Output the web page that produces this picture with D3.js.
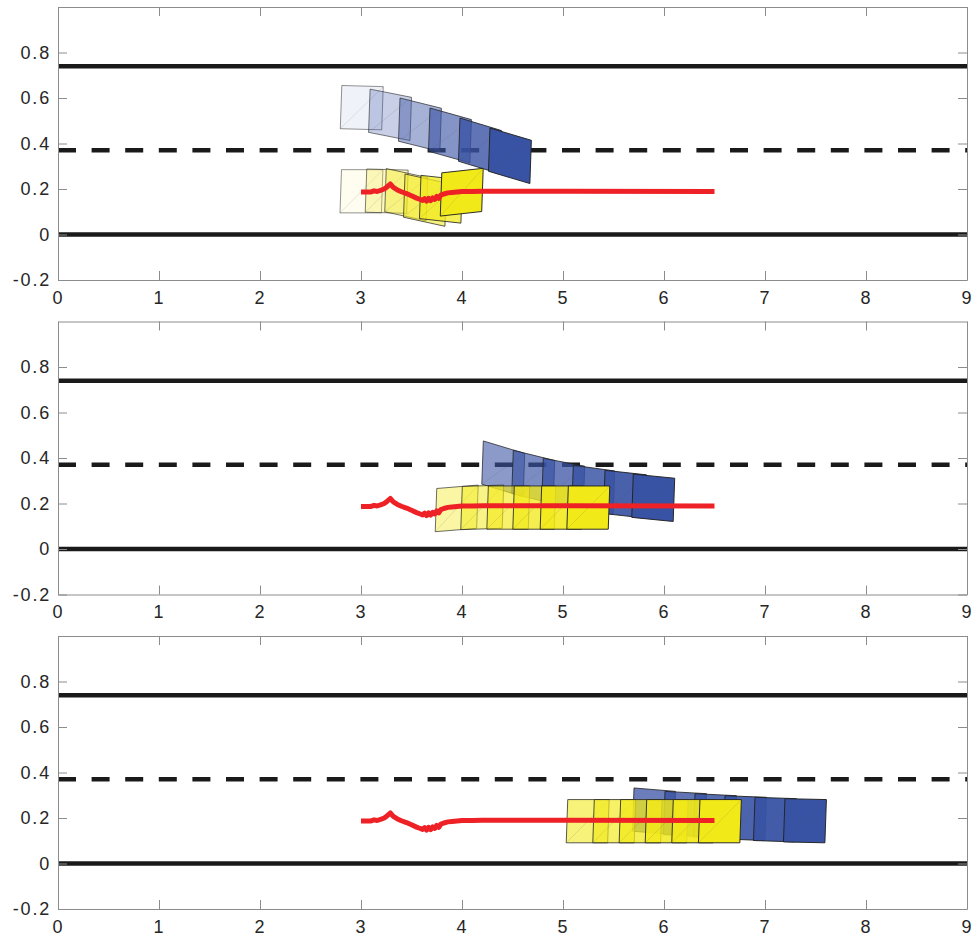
<!DOCTYPE html>
<html>
<head>
<meta charset="utf-8">
<script src="https://cdn.jsdelivr.net/npm/d3@7/dist/d3.min.js"></script>
<style>
  body { margin: 0; background: #fff; }
  .axis path, .axis line { stroke: #8c8c8c; }
  .axis text { fill: #262626; font-family: "Liberation Sans", Arial, sans-serif; font-size: 18px; letter-spacing: 1.8px; }
</style>
</head>
<body>
<div id="chart"></div>
<script>
// tick values
const xTicks = [0, 1, 2, 3, 4, 5, 6, 7, 8, 9];
const yTicks = [-0.2, 0, 0.2, 0.4, 0.6, 0.8];

// horizontal reference levels
const solidLevels = [0.74, 0];
const dashedLevel = 0.37;

// reference path (red)
const pathX = [3.0, 3.10, 3.13, 3.16, 3.20, 3.23, 3.26, 3.29, 3.32, 3.36, 3.40, 3.45, 3.50, 3.55, 3.58, 3.61, 3.63, 3.65, 3.67, 3.69, 3.71, 3.73, 3.75, 3.77, 3.79, 3.82, 3.86, 3.90, 3.95, 4.00, 4.10, 4.20, 4.40, 5.0, 6.5];
const pathY = [0.187, 0.187, 0.192, 0.189, 0.195, 0.200, 0.210, 0.222, 0.207, 0.196, 0.188, 0.180, 0.170, 0.160, 0.155, 0.150, 0.158, 0.147, 0.159, 0.149, 0.161, 0.154, 0.167, 0.159, 0.173, 0.178, 0.183, 0.185, 0.187, 0.189, 0.189, 0.190, 0.190, 0.190, 0.189];

// box size in data units
const boxW = 0.41;
const boxH = 0.19;

// boxes: [left x, top-left y, top edge rise over the width, opacity]
const blueBoxes1 = [[2.81, 0.655, -0.005, 0.08], [3.09, 0.639, -0.036, 0.28], [3.386, 0.600, -0.045, 0.45], [3.683, 0.556, -0.051, 0.62], [3.98, 0.512, -0.055, 0.8], [4.277, 0.468, -0.054, 1.0]];
const yellowBoxes1 = [[2.807, 0.285, 0.0, 0.07], [3.057, 0.288, -0.005, 0.25], [3.25, 0.29, -0.04, 0.4], [3.436, 0.266, -0.04, 0.55], [3.594, 0.26, -0.02, 0.75], [3.80, 0.271, 0.02, 1.0]];

const blueBoxes2 = [[4.211, 0.475, -0.055, 0.59], [4.508, 0.434, -0.045, 0.67], [4.805, 0.399, -0.035, 0.75], [5.102, 0.368, -0.025, 0.84], [5.416, 0.346, -0.02, 0.92], [5.696, 0.329, -0.018, 1.0]];
const yellowBoxes2 = [[3.75, 0.266, 0.015, 0.4], [4.003, 0.275, 0.006, 0.52], [4.261, 0.277, 0.0, 0.64], [4.518, 0.277, 0.0, 0.76], [4.789, 0.277, 0.0, 0.88], [5.053, 0.277, 0.0, 1.0]];

const blueBoxes3 = [[5.703, 0.332, -0.015, 0.75], [6.01, 0.317, -0.01, 0.8], [6.307, 0.307, -0.009, 0.85], [6.604, 0.298, -0.007, 0.9], [6.901, 0.291, -0.006, 0.95], [7.198, 0.285, -0.004, 1.0]];
const yellowBoxes3 = [[5.047, 0.281, 0.0, 0.58], [5.31, 0.281, 0.0, 0.66], [5.571, 0.281, 0.0, 0.75], [5.829, 0.281, 0.0, 0.83], [6.092, 0.281, 0.0, 0.92], [6.356, 0.281, 0.0, 1.0]];

const panels = [
  {blue: blueBoxes1, yellow: yellowBoxes1},
  {blue: blueBoxes2, yellow: yellowBoxes2},
  {blue: blueBoxes3, yellow: yellowBoxes3}
];

const blueColor = "#3953a4";
const yellowColor = "#f2e919";
const redColor = "#ee2226";

// set the dimensions and margins of each panel
var margin = {left: 58, top: 7},
    width = 909,
    height = 273,
    step = 314.5;

var svg = d3.select("#chart")
  .append("svg")
    .attr("width", 976)
    .attr("height", 945);

var x = d3.scaleLinear().domain([0, 9]).range([0, width]);
var y = d3.scaleLinear().domain([-0.2, 1.0]).range([height, 0]);

var line = d3.line()
  .x(d => x(d[0]))
  .y(d => y(d[1]));

var pathData = pathX.map((v, i) => [v, pathY[i]]);

// corners of one tilted box
function corners(b) {
  var skew = 0.015;
  return [
    [b[0], b[1]],
    [b[0] + boxW, b[1] + b[2]],
    [b[0] + boxW - skew, b[1] + b[2] - boxH],
    [b[0] - skew, b[1] - boxH]
  ];
}

function drawBoxes(g, boxes, color) {
  var grp = g.append("g");
  boxes.forEach(function(b) {
    var c = corners(b);
    grp.append("path")
      .attr("d", line(c) + "Z")
      .attr("fill", color)
      .attr("fill-opacity", b[3])
      .attr("stroke", "#222")
      .attr("stroke-opacity", 0.45 + 0.5 * b[3])
      .attr("stroke-width", 1);
    // faint triangulation edge
    grp.append("path")
      .attr("d", line([c[3], c[1]]))
      .attr("stroke", "#555")
      .attr("stroke-opacity", 0.18)
      .attr("stroke-width", 0.8);
  });
}

// plain hyphen for negatives, like the original
var yFormat = d => d === 0 ? "0" : d3.format(".1f")(d).replace("\u2212", "-");

panels.forEach(function(p, i) {
  var g = svg.append("g")
    .attr("transform", "translate(" + margin.left + "," + (margin.top + i * step) + ")");

  g.append("defs").append("clipPath")
    .attr("id", "clip" + i)
    .append("rect")
      .attr("width", width)
      .attr("height", height);

  var plot = g.append("g").attr("clip-path", "url(#clip" + i + ")");

  // black reference levels
  solidLevels.forEach(function(v) {
    plot.append("line")
      .attr("x1", 0).attr("x2", width)
      .attr("y1", y(v)).attr("y2", y(v))
      .attr("stroke", "#1a1a1a")
      .attr("stroke-width", 4.5);
  });
  plot.append("line")
    .attr("x1", 0).attr("x2", width)
    .attr("y1", y(dashedLevel)).attr("y2", y(dashedLevel))
    .attr("stroke", "#1a1a1a")
    .attr("stroke-width", 4.5)
    .attr("stroke-dasharray", "18,15.6");

  drawBoxes(plot, p.blue, blueColor);
  drawBoxes(plot, p.yellow, yellowColor);

  plot.append("path")
    .datum(pathData)
    .attr("d", line)
    .attr("fill", "none")
    .attr("stroke", redColor)
    .attr("stroke-width", 5)
    .attr("stroke-linejoin", "round");

  // axes with inward ticks on all four sides
  g.append("g")
    .attr("class", "axis")
    .attr("transform", "translate(0," + height + ")")
    .call(d3.axisBottom(x).tickValues(xTicks).tickSizeInner(-9).tickSizeOuter(0).tickPadding(11).tickFormat(d3.format("d")));
  g.append("g")
    .attr("class", "axis")
    .call(d3.axisTop(x).tickValues(xTicks).tickSizeInner(-9).tickSizeOuter(0).tickFormat(""));
  g.append("g")
    .attr("class", "axis")
    .call(d3.axisLeft(y).tickValues(yTicks).tickSizeInner(-9).tickSizeOuter(0).tickPadding(7).tickFormat(yFormat));
  g.append("g")
    .attr("class", "axis")
    .attr("transform", "translate(" + width + ",0)")
    .call(d3.axisRight(y).tickValues(yTicks).tickSizeInner(-9).tickSizeOuter(0).tickFormat(""));
});
</script>
</body>
</html>
